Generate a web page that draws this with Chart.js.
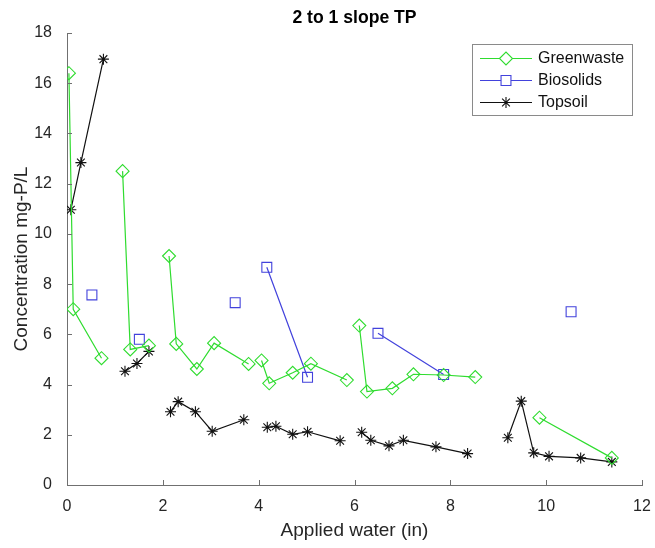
<!DOCTYPE html>
<html>
<head>
<meta charset="utf-8">
<script src="https://cdn.jsdelivr.net/npm/chart.js@4/dist/chart.umd.min.js"></script>
<style>
  html, body { margin: 0; padding: 0; background: #fff; }
  #wrap { width: 655px; height: 548px; }
</style>
</head>
<body>
<div id="wrap"><canvas id="c" width="655" height="548"></canvas></div>
<script>
// ---- data (null = break in the line) ----
const seriesNames = ['Greenwaste', 'Biosolids', 'Topsoil'];

const greenwasteX = [0.04, 0.13, 0.72, null, 1.16, 1.32, 1.71, null, 2.13, 2.28, 2.71, 3.07, 3.79, null,
  4.06, 4.22, 4.71, 5.09, 5.84, null, 6.10, 6.26, 6.79, 7.23, 7.86, 8.52, null, 9.86, 11.37];
const greenwasteY = [16.4, 7.0, 5.05, null, 12.5, 5.4, 5.55, null, 9.12, 5.62, 4.62, 5.65, 4.82, null,
  4.96, 4.05, 4.47, 4.83, 4.18, null, 6.35, 3.72, 3.85, 4.41, 4.38, 4.3, null, 2.68, 1.08];

const biosolidsX = [0.52, null, 1.51, null, 3.51, null, 4.17, 5.02, null, 6.49, 7.86, null, 10.52];
const biosolidsY = [7.57, null, 5.8, null, 7.26, null, 8.67, 4.29, null, 6.04, 4.4, null, 6.9];

const topsoilX = [0.08, 0.29, 0.76, null, 1.21, 1.46, 1.71, null, 2.16, 2.32, 2.68, 3.03, 3.69, null,
  4.18, 4.36, 4.71, 5.02, 5.70, null, 6.15, 6.34, 6.72, 7.02, 7.70, 8.36, null,
  9.20, 9.48, 9.74, 10.06, 10.72, 11.37];
const topsoilY = [10.96, 12.84, 16.96, null, 4.53, 4.84, 5.32, null, 2.92, 3.32, 2.92, 2.14, 2.6, null,
  2.3, 2.34, 2.02, 2.12, 1.76, null, 2.1, 1.78, 1.56, 1.78, 1.52, 1.25, null,
  1.88, 3.34, 1.28, 1.14, 1.08, 0.92];

const xTicks = [0, 2, 4, 6, 8, 10, 12];
const yTicks = [0, 2, 4, 6, 8, 10, 12, 14, 16, 18];

function pts(xs, ys) {
  return xs.map((x, i) => ({ x: x === null ? (xs[i - 1] ?? 0) : x, y: ys[i] }));
}

const FONT = "'Liberation Sans', Arial, Helvetica, sans-serif";
const GREEN = '#2fdc2f', BLUE = '#4242dc', BLACK = '#111111';

const datasets = [
  { label: seriesNames[0], data: pts(greenwasteX, greenwasteY), borderColor: GREEN, backgroundColor: 'rgba(0,0,0,0)',
    borderWidth: 1.2, pointStyle: 'rectRot', pointRadius: 6.5, pointBorderWidth: 1.1,
    pointBorderColor: GREEN, pointBackgroundColor: 'rgba(0,0,0,0)', spanGaps: false, tension: 0 },
  { label: seriesNames[1], data: pts(biosolidsX, biosolidsY), borderColor: BLUE, backgroundColor: 'rgba(0,0,0,0)',
    borderWidth: 1.2, pointStyle: 'rect', pointRadius: 7, pointBorderWidth: 1.1,
    pointBorderColor: BLUE, pointBackgroundColor: 'rgba(0,0,0,0)', spanGaps: false, tension: 0 },
  { label: seriesNames[2], data: pts(topsoilX, topsoilY), borderColor: BLACK, backgroundColor: 'rgba(0,0,0,0)',
    borderWidth: 1.2, pointStyle: 'star', pointRadius: 5.5, pointBorderWidth: 1.1,
    pointBorderColor: BLACK, pointBackgroundColor: 'rgba(0,0,0,0)', spanGaps: false, tension: 0 }
];

// inward tick marks + legend box
const decor = {
  id: 'decor',
  afterDraw(chart) {
    const ctx = chart.ctx;
    const xs = chart.scales.x, ys = chart.scales.y;
    const area = chart.chartArea;
    ctx.save();
    ctx.strokeStyle = '#707070';
    ctx.lineWidth = 1;
    ctx.beginPath();
    xTicks.forEach(v => {
      const px = Math.round(xs.getPixelForValue(v)) + 0.5;
      ctx.moveTo(px, area.bottom);
      ctx.lineTo(px, area.bottom - 5);
    });
    yTicks.forEach(v => {
      const py = Math.round(ys.getPixelForValue(v)) + 0.5;
      ctx.moveTo(area.left, py);
      ctx.lineTo(area.left + 5, py);
    });
    ctx.stroke();

    // legend
    const bx = 472.5, by = 44.5, bw = 160, bh = 71;
    ctx.fillStyle = '#ffffff';
    ctx.fillRect(bx, by, bw, bh);
    ctx.strokeStyle = '#8a8a8a';
    ctx.strokeRect(bx, by, bw, bh);
    const rows = [58, 80, 102];
    chart.data.datasets.forEach((ds, i) => {
      const y = rows[i];
      ctx.strokeStyle = ds.borderColor;
      ctx.lineWidth = 1.2;
      ctx.beginPath();
      ctx.moveTo(480, y + 0.5);
      ctx.lineTo(532, y + 0.5);
      ctx.stroke();
      if (Chart.helpers && Chart.helpers.drawPoint) {
        ctx.lineWidth = ds.pointBorderWidth;
        ctx.strokeStyle = ds.pointBorderColor;
        ctx.fillStyle = '#ffffff';
        Chart.helpers.drawPoint(ctx, { pointStyle: ds.pointStyle, radius: ds.pointRadius, rotation: 0, borderWidth: ds.pointBorderWidth }, 506, y + 0.5);
      }
      ctx.fillStyle = '#111111';
      ctx.font = '16px ' + FONT;
      ctx.textAlign = 'left';
      ctx.textBaseline = 'middle';
      ctx.fillText(ds.label, 538, y + 1);
    });
    ctx.restore();
  }
};

new Chart(document.getElementById('c'), {
  type: 'line',
  data: { datasets },
  plugins: [decor],
  options: {
    responsive: false,
    animation: false,
    layout: { padding: { left: 0, right: 13, top: 0, bottom: 0 } },
    plugins: {
      legend: { display: false },
      tooltip: { enabled: false },
      title: {
        display: true,
        fullSize: false,
        text: '2 to 1 slope TP',
        color: '#000000',
        font: { family: FONT, size: 17.6, weight: 'bold' },
        padding: { top: 8, bottom: 3.9 }
      }
    },
    scales: {
      x: {
        type: 'linear',
        min: 0, max: 12,
        afterFit(s) { s.height = 63; },
        afterBuildTicks(s) { s.ticks = xTicks.map(v => ({ value: v })); },
        grid: { display: false },
        border: { display: true, color: '#707070', width: 1 },
        ticks: { color: '#262626', font: { family: FONT, size: 16 }, padding: 4, maxRotation: 0 },
        title: { display: true, text: 'Applied water (in)', color: '#262626',
                 font: { family: FONT, size: 19 }, padding: { top: 0, bottom: 5.5 } }
      },
      y: {
        type: 'linear',
        min: 0, max: 18,
        afterFit(s) { s.width = 67; },
        afterBuildTicks(s) { s.ticks = yTicks.map(v => ({ value: v })); },
        grid: { display: false },
        border: { display: true, color: '#707070', width: 1 },
        ticks: { color: '#262626', font: { family: FONT, size: 16 }, padding: 7 },
        title: { display: true, text: 'Concentration mg-P/L', color: '#262626',
                 font: { family: FONT, size: 19 }, padding: { top: 10, bottom: 0 } }
      }
    }
  }
});
</script>
</body>
</html>
